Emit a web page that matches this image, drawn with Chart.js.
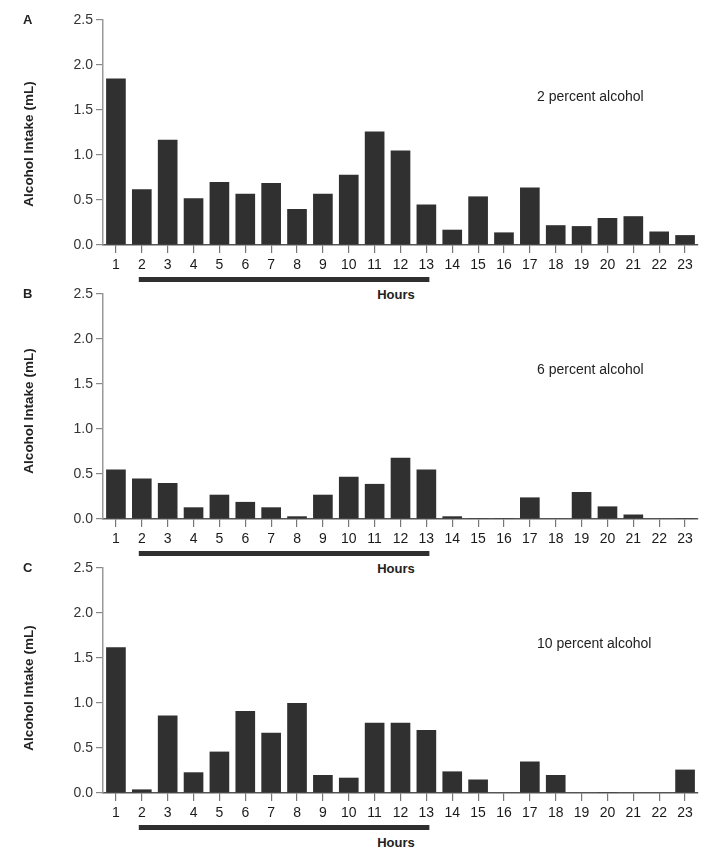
<!DOCTYPE html>
<html>
<head>
<meta charset="utf-8">
<script src="https://cdn.jsdelivr.net/npm/chart.js@4.4.1/dist/chart.umd.min.js"></script>
<style>
  html, body { margin: 0; padding: 0; background: #fff; }
  body { width: 709px; height: 854px; position: relative; overflow: hidden; font-family: 'Liberation Sans', Arial, sans-serif; }
  canvas.panel { position: absolute; left: 0; }
  .letter { position: absolute; font-weight: bold; font-size: 13px; color: #222; }
  .ytitle { position: absolute; font-weight: bold; font-size: 13.5px; color: #222; white-space: nowrap;
            transform: translate(-50%, -50%) rotate(-90deg); }
  .note { position: absolute; font-size: 14px; color: #222; white-space: nowrap; transform: translateY(-50%); }
  .hours { position: absolute; font-weight: bold; font-size: 13px; color: #222; transform: translate(-50%, -50%); }
</style>
</head>
<body>
<script>
"use strict";

// hours of the day (x categories)
const hours = ["1","2","3","4","5","6","7","8","9","10","11","12","13","14","15","16","17","18","19","20","21","22","23"];

// alcohol intake (mL) per hour
const intake2  = [1.85, 0.62, 1.17, 0.52, 0.70, 0.57, 0.69, 0.40, 0.57, 0.78, 1.26, 1.05, 0.45, 0.17, 0.54, 0.14, 0.64, 0.22, 0.21, 0.30, 0.32, 0.15, 0.11];
const intake6  = [0.55, 0.45, 0.40, 0.13, 0.27, 0.19, 0.13, 0.03, 0.27, 0.47, 0.39, 0.68, 0.55, 0.03, 0.01, 0.01, 0.24, 0.00, 0.30, 0.14, 0.05, 0.00, 0.01];
const intake10 = [1.62, 0.04, 0.86, 0.23, 0.46, 0.91, 0.67, 1.00, 0.20, 0.17, 0.78, 0.78, 0.70, 0.24, 0.15, 0.00, 0.35, 0.20, 0.00, 0.01, 0.00, 0.00, 0.26];

const yMax = 2.5;
const yStep = 0.5;

// dark phase marker under the axis (from hour 2 to hour 13)
const darkStart = "2";
const darkEnd = "13";

const panels = [
  { letter: "A", note: "2 percent alcohol",  data: intake2,  top: 20,  noteY: 96,  titleY: 144 },
  { letter: "B", note: "6 percent alcohol",  data: intake6,  top: 294, noteY: 369, titleY: 411 },
  { letter: "C", note: "10 percent alcohol", data: intake10, top: 568, noteY: 643, titleY: 688 }
];

const plotH = 225;
const padTop = 15;
const xAxisH = 40;

const darkBar = {
  id: 'darkBar',
  afterDraw(chart) {
    const x = chart.scales.x;
    const ctx = chart.ctx;
    const x0 = x.getPixelForValue(hours.indexOf(darkStart)) - 3;
    const x1 = x.getPixelForValue(hours.indexOf(darkEnd)) + 3;
    const y = chart.chartArea.bottom + 32;
    ctx.save();
    ctx.fillStyle = '#2f2f2f';
    ctx.fillRect(x0, y, x1 - x0, 5);
    ctx.restore();
  }
};

function addDiv(cls, text, css) {
  const d = document.createElement('div');
  d.className = cls;
  d.textContent = text;
  Object.assign(d.style, css);
  document.body.appendChild(d);
  return d;
}

panels.forEach(p => {
  const cv = document.createElement('canvas');
  cv.className = 'panel';
  cv.style.top = (p.top - padTop) + 'px';
  cv.style.width = '709px';
  cv.style.height = (padTop + plotH + xAxisH) + 'px';
  cv.width = 709;
  cv.height = padTop + plotH + xAxisH;
  document.body.appendChild(cv);

  new Chart(cv, {
    type: 'bar',
    data: {
      labels: hours,
      datasets: [{
        data: p.data,
        backgroundColor: '#303030',
        borderWidth: 0,
        barPercentage: 0.76,
        categoryPercentage: 1
      }]
    },
    options: {
      responsive: false,
      animation: false,
      layout: { padding: { top: padTop, right: 11, left: 0, bottom: 0 } },
      plugins: { legend: { display: false }, tooltip: { enabled: false } },
      scales: {
        x: {
          offset: true,
          grid: { offset: false, drawOnChartArea: false, tickLength: 8, color: '#777', lineWidth: 1.2 },
          border: { color: '#555', width: 1.5 },
          ticks: { color: '#1a1a1a', padding: 4, maxRotation: 0, autoSkip: false,
                   font: { family: "'Liberation Sans Narrow', 'Liberation Sans', Arial", size: 14 } },
          afterFit(s) { s.height = xAxisH; }
        },
        y: {
          min: 0,
          max: yMax,
          ticks: { stepSize: yStep, color: '#333', padding: 3,
                   font: { family: "'Liberation Sans Narrow', 'Liberation Sans', Arial", size: 14 },
                   callback: v => Number(v).toFixed(1) },
          grid: { drawOnChartArea: false, tickLength: 7, color: '#888', lineWidth: 1.2 },
          border: { color: '#999', width: 1.5 },
          afterFit(s) { s.width = 103; }
        }
      }
    },
    plugins: [darkBar]
  });

  addDiv('letter', p.letter, { left: '23px', top: (p.top - 8) + 'px' });
  addDiv('ytitle', 'Alcohol Intake (mL)', { left: '28px', top: p.titleY + 'px' });
  addDiv('note', p.note, { left: '537px', top: p.noteY + 'px' });
  addDiv('hours', 'Hours', { left: '396px', top: (p.top + plotH + 49) + 'px' });
});
</script>
</body>
</html>
